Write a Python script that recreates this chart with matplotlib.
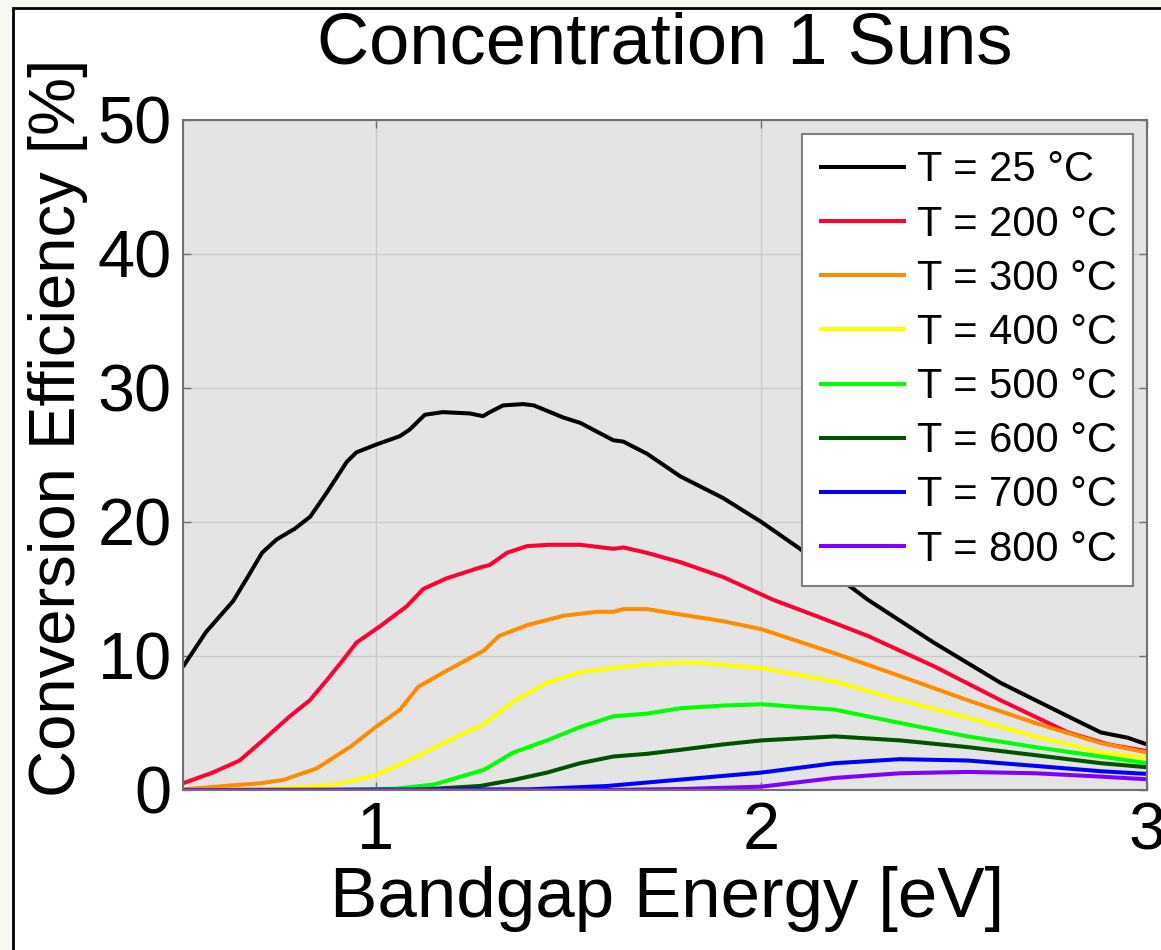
import matplotlib
matplotlib.use("Agg")
import matplotlib.pyplot as plt
from matplotlib.patches import Rectangle

plt.rcParams['font.family'] = ['Liberation Sans', 'DejaVu Sans']

# efficiency curves vs bandgap, one per cell temperature
temps = [25, 200, 300, 400, 500, 600, 700, 800]
colors = ['#000000', '#ff0033', '#ff8c00', '#ffff00', '#00ff00', '#005200', '#0000ff', '#7f00ff']

x_25 = [0.5, 0.56, 0.63, 0.67, 0.705, 0.743, 0.79, 0.83, 0.873, 0.925, 0.95, 1.003, 1.062, 1.088,
        1.127, 1.174, 1.244, 1.278, 1.296, 1.33, 1.382, 1.41, 1.486, 1.53, 1.616, 1.642, 1.703,
        1.79, 1.9, 2.0, 2.1, 2.276, 2.447, 2.62, 2.795, 2.88, 2.95, 3.0]
y_25 = [9.2, 11.8, 14.1, 16.0, 17.7, 18.7, 19.5, 20.4, 22.2, 24.5, 25.2, 25.8, 26.4, 26.9,
        28.0, 28.2, 28.1, 27.9, 28.2, 28.7, 28.8, 28.7, 27.8, 27.4, 26.1, 26.0, 25.1,
        23.4, 21.8, 20.0, 18.0, 14.2, 11.0, 8.0, 5.5, 4.3, 3.9, 3.4]

x_200 = [0.5, 0.577, 0.647, 0.707, 0.777, 0.829, 0.873, 0.915, 0.95, 1.01, 1.08, 1.123, 1.184,
         1.27, 1.296, 1.34, 1.392, 1.45, 1.53, 1.616, 1.642, 1.703, 1.79, 1.9, 2.03, 2.15,
         2.276, 2.45, 2.62, 2.795, 2.9, 3.0]
y_200 = [0.5, 1.3, 2.2, 3.7, 5.5, 6.7, 8.2, 9.7, 11.0, 12.2, 13.7, 15.0, 15.8,
         16.6, 16.8, 17.7, 18.2, 18.3, 18.3, 18.0, 18.1, 17.7, 17.0, 15.9, 14.2, 12.9,
         11.5, 9.2, 6.7, 4.3, 3.4, 2.9]

x_300 = [0.5, 0.63, 0.7, 0.76, 0.846, 0.933, 1.0, 1.063, 1.11, 1.19, 1.28, 1.32, 1.392, 1.486,
         1.573, 1.616, 1.642, 1.703, 1.79, 1.9, 2.0, 2.19, 2.36, 2.535, 2.71, 2.88, 3.0]
y_300 = [0.05, 0.35, 0.5, 0.75, 1.6, 3.2, 4.7, 6.0, 7.7, 9.0, 10.4, 11.5, 12.3, 13.0,
         13.3, 13.3, 13.5, 13.5, 13.1, 12.6, 12.0, 10.2, 8.5, 6.7, 5.0, 3.5, 2.8]

x_400 = [0.5, 0.7, 0.89, 1.0, 1.106, 1.19, 1.28, 1.357, 1.444, 1.53, 1.616, 1.703, 1.79, 1.84,
         2.0, 2.19, 2.36, 2.535, 2.71, 2.88, 3.0]
y_400 = [0.0, 0.05, 0.37, 1.1, 2.5, 3.7, 4.9, 6.6, 8.0, 8.8, 9.1, 9.4, 9.5, 9.5,
         9.1, 8.1, 6.7, 5.4, 4.0, 2.8, 2.4]

x_500 = [0.5, 0.9, 1.05, 1.15, 1.28, 1.357, 1.444, 1.53, 1.616, 1.703, 1.79, 1.9, 2.0, 2.19,
         2.36, 2.535, 2.71, 2.88, 3.0]
y_500 = [0.0, 0.0, 0.1, 0.4, 1.5, 2.8, 3.7, 4.7, 5.5, 5.7, 6.1, 6.3, 6.4, 6.0,
         5.0, 4.0, 3.2, 2.5, 2.0]

x_600 = [0.5, 1.1, 1.27, 1.357, 1.444, 1.53, 1.616, 1.703, 1.79, 1.9, 2.0, 2.19, 2.36, 2.535,
         2.71, 2.88, 3.0]
y_600 = [0.0, 0.0, 0.3, 0.75, 1.3, 2.0, 2.5, 2.7, 3.0, 3.4, 3.7, 4.0, 3.7, 3.2,
         2.6, 2.0, 1.7]

x_700 = [0.5, 1.4, 1.6, 1.8, 2.0, 2.19, 2.36, 2.535, 2.71, 2.88, 3.0]
y_700 = [0.0, 0.05, 0.3, 0.8, 1.3, 2.0, 2.3, 2.2, 1.8, 1.4, 1.2]

x_800 = [0.5, 1.6, 1.8, 2.0, 2.19, 2.36, 2.535, 2.71, 2.88, 3.0]
y_800 = [0.0, 0.0, 0.08, 0.25, 0.9, 1.25, 1.35, 1.25, 1.0, 0.8]

xs = [x_25, x_200, x_300, x_400, x_500, x_600, x_700, x_800]
ys = [y_25, y_200, y_300, y_400, y_500, y_600, y_700, y_800]

x_ticks = [1, 2, 3]
y_ticks = [0, 10, 20, 30, 40, 50]

fig = plt.figure(figsize=(11.61, 9.5), dpi=100)
fig.patch.set_facecolor('#f8f7f2')
# white page with a black edge on the left and top
fig.add_artist(Rectangle((12.5 / 1161, -0.1), 1.2, 1.1 - 8.5 / 950,
                         transform=fig.transFigure, facecolor='white',
                         edgecolor='black', lw=2, zorder=-10))

ax = fig.add_axes([183 / 1161, 160 / 950, 964 / 1161, 670 / 950])
ax.set_facecolor('#e4e4e4')

for t, c, x, y in zip(temps, colors, xs, ys):
    ax.plot(x, y, color=c, lw=2.9, label=f'T = {t} °C', solid_capstyle='butt')

ax.set_xlim(0.5, 3)
ax.set_ylim(0, 50)
ax.set_xticks(x_ticks)
ax.set_yticks(y_ticks)
ax.grid(True, color='#cbcbcb', lw=1)
ax.set_axisbelow(True)

for s in ax.spines.values():
    s.set_color('#707070')
    s.set_linewidth(1.5)
ax.tick_params(direction='in', length=6, width=1, color='#707070',
               top=True, right=True, labelsize=48, pad=8)

ax.set_title('Concentration 1 Suns', fontsize=52, y=1 + 57 / 670, pad=0)
ax.set_xlabel('Bandgap Energy [eV]', fontsize=51)
ax.set_ylabel('Conversion Efficiency [%]', fontsize=47)
ax.xaxis.set_label_coords(0.502, -0.113)
ax.yaxis.set_label_coords(-0.099, 0.54)

leg = ax.legend(loc='upper right', fontsize=30, handlelength=2.1, handletextpad=0.25,
                labelspacing=0.34, borderpad=0.4, borderaxespad=0.33,
                fancybox=False, framealpha=1, edgecolor='#7f7f7f')
leg.get_frame().set_linewidth(1.5)

fig.savefig('out.png', dpi=100, facecolor=fig.get_facecolor())
